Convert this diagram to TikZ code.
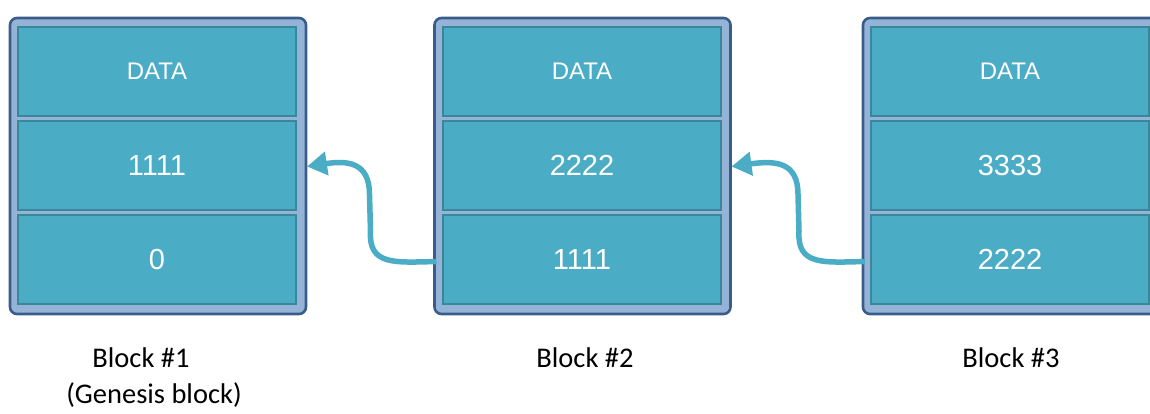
\documentclass[tikz,border=0pt]{standalone}
\usepackage{fontspec}
\setmainfont{Carlito}
\newfontfamily\cellfont{Liberation Sans}
\usetikzlibrary{calc,arrows.meta}
\definecolor{cellfill}{HTML}{4BACC6}
\definecolor{celledge}{HTML}{3A8799}
\definecolor{outerfill}{HTML}{95B3D7}
\definecolor{outeredge}{HTML}{385D8A}
\definecolor{arrowcol}{HTML}{4BACC6}
\begin{document}
\begin{tikzpicture}[x=1pt,y=-1pt,
  outerbox/.style={draw=outeredge,fill=outerfill,line width=2.6pt,rounded corners=7pt,
    minimum width=296pt,minimum height=296pt,inner sep=0pt,outer sep=0pt},
  cellbox/.style={draw=celledge,fill=cellfill,line width=2.2pt,minimum width=278pt,
    minimum height=89pt,inner sep=0pt,outer sep=0pt,text=white,font=\cellfont\fontsize{24}{28}\selectfont},
  numbox/.style={cellbox,font=\cellfont\fontsize{29}{32}\selectfont},
  caption/.style={font=\fontsize{28.5}{32}\selectfont,text=black,inner sep=0pt},
  link/.style={draw=arrowcol,line width=5.5pt,-{Triangle[length=20pt,width=23pt]}}]
\useasboundingbox (0,0) rectangle (1150,413);
\begin{scope}
\clip (0,0) rectangle (1150,413);
% Block 1
\node[outerbox] (b1) at (158,166) {};
\node[cellbox] (b1c1) at (157,71.5) {DATA};
\node[numbox] (b1c2) at (157,165.5) {1111};
\node[numbox] (b1c3) at (157,259.5) {0};
% Block 2
\node[outerbox] (b2) at (582.5,166) {};
\node[cellbox] (b2c1) at (582,71.5) {DATA};
\node[numbox] (b2c2) at (582,165.5) {2222};
\node[numbox] (b2c3) at (582,259.5) {1111};
% Block 3
\node[outerbox] (b3) at (1011,166) {};
\node[cellbox] (b3c1) at (1010,71.5) {DATA};
\node[numbox] (b3c2) at (1010,165.5) {3333};
\node[numbox] (b3c3) at (1010,259.5) {2222};
% links
\coordinate (s2) at ($(b2.west |- b2c3)+(2,2)$);
\coordinate (t1) at ($(b1.east |- b1c2)+(1,1)$);
\draw[link] (s2) .. controls ($(s2)+(-42,1)$) and ($(s2)+(-68,4)$) .. ($(s2)+(-66,-30)$)
  -- ($(s2)+(-67,-67)$) .. controls ($(s2)+(-67,-100)$) and ($(s2)+(-90,-101)$) .. (t1);
\coordinate (s3) at ($(b3.west |- b3c3)+(2,2)$);
\coordinate (t2) at ($(b2.east |- b2c2)+(1,1)$);
\draw[link] (s3) .. controls ($(s3)+(-42,1)$) and ($(s3)+(-68,4)$) .. ($(s3)+(-66,-30)$)
  -- ($(s3)+(-67,-67)$) .. controls ($(s3)+(-67,-100)$) and ($(s3)+(-90,-101)$) .. (t2);
\end{scope}
% captions
\node[caption] (l1) at (141,358) {Block \#1};
\node[caption] (l1b) at (154,395) {(Genesis block)};
\node[caption] (l2) at (585,358) {Block \#2};
\node[caption] (l3) at (1011,358) {Block \#3};
\end{tikzpicture}
\end{document}
